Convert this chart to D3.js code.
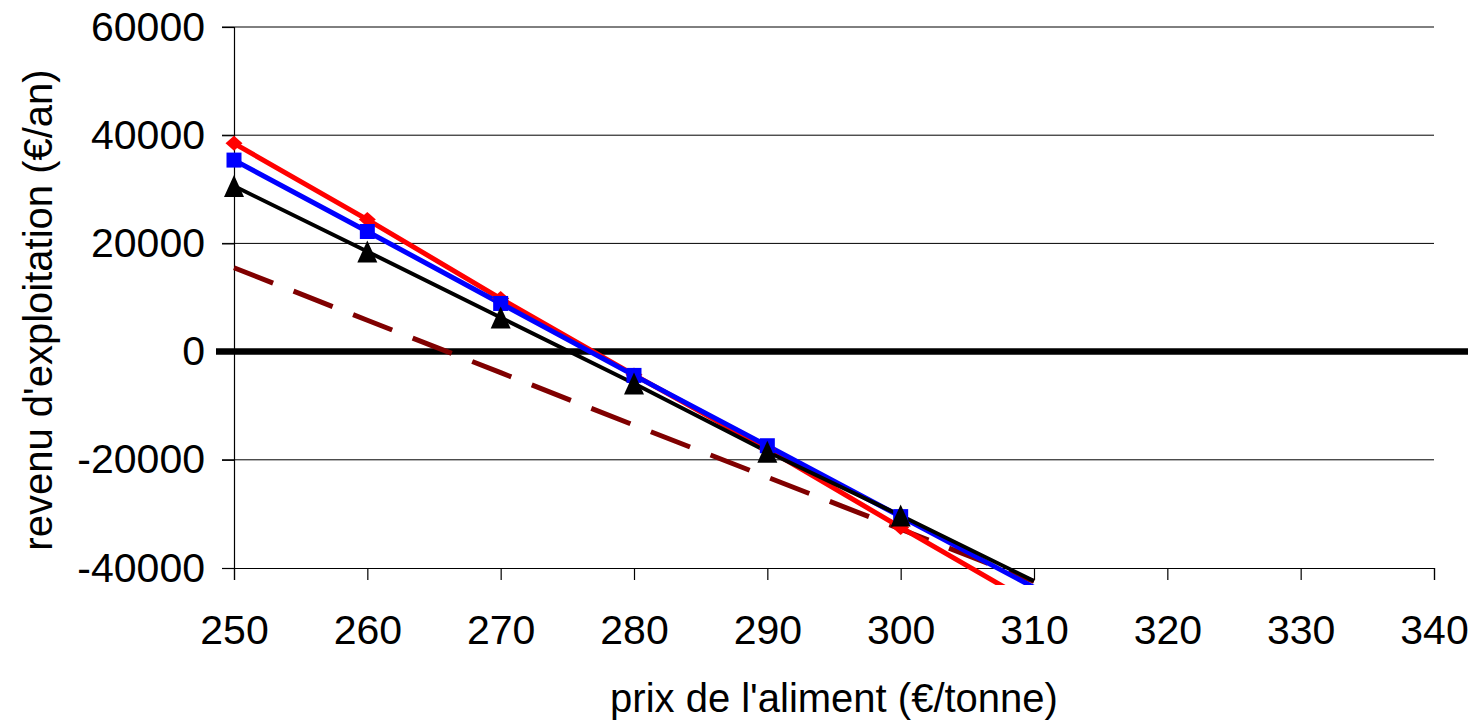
<!DOCTYPE html>
<html>
<head>
<meta charset="utf-8">
<script src="https://cdn.jsdelivr.net/npm/d3@7"></script>
<style>
  html, body { margin: 0; padding: 0; background: #fff; }
  svg { display: block; font-family: "Liberation Sans", Arial, sans-serif; }
</style>
</head>
<body>
<svg id="chart" width="1468" height="722"></svg>
<script>
// Feed price (€/tonne)
const prices = [250, 260, 270, 280, 290, 300, 310];
// Farm income (€/year) for each scenario
const seriesRed   = [38500, 24400, 9800, -4300, -18000, -32500, -46700];
const seriesBlue  = [35400, 22200, 8900, -4400, -17400, -30500, -43600];
const seriesBlack = [30600, 18500, 6300, -5900, -18500, -30300, -42400];
const seriesDash  = [15500, 5800, -3900, -13600, -23200, -32800, -42500];
const xTicks = [250, 260, 270, 280, 290, 300, 310, 320, 330, 340];
const yTicks = [-40000, -20000, 0, 20000, 40000, 60000];

const svg = d3.select("#chart");
const plotLeft = 234, plotRight = 1434, plotTop = 27, plotBottom = 568;
const FONT = "Liberation Sans, Arial, sans-serif";
const FS = 41;

const x = d3.scaleLinear().domain([250, 340]).range([plotLeft, plotRight]);
const y = d3.scaleLinear().domain([-40000, 60000]).range([plotBottom, plotTop]);

// horizontal gridlines
svg.append("g").selectAll("line").data(yTicks.filter(d => d !== 0 && d !== -40000))
  .join("line")
  .attr("x1", plotLeft - 12).attr("x2", plotRight)
  .attr("y1", d => y(d)).attr("y2", d => y(d))
  .attr("stroke", "#000").attr("stroke-width", 1);

// y axis
const yAxis = d3.axisLeft(y).tickValues(yTicks).tickSize(12).tickPadding(17).tickFormat(d => String(d));
const gy = svg.append("g").attr("transform", `translate(${plotLeft},0)`).call(yAxis)
  .attr("font-size", FS).attr("font-family", FONT);
gy.select(".domain").attr("stroke", "#000").attr("stroke-width", 1.2);
gy.selectAll(".tick line").attr("stroke", "#000").attr("stroke-width", 1.2);
gy.selectAll(".tick text").attr("fill", "#000");

// x axis
const xAxis = d3.axisBottom(x).tickValues(xTicks).tickSize(12).tickPadding(35).tickFormat(d => String(d));
const gx = svg.append("g").attr("transform", `translate(0,${plotBottom})`).call(xAxis)
  .attr("font-size", FS).attr("font-family", FONT);
gx.select(".domain").attr("stroke", "#000").attr("stroke-width", 1.2);
gx.selectAll(".tick line").attr("stroke", "#000").attr("stroke-width", 1.2);
gx.selectAll(".tick text").attr("fill", "#000");

// thick zero line
svg.append("line")
  .attr("x1", plotLeft - 18).attr("x2", 1468)
  .attr("y1", y(0)).attr("y2", y(0))
  .attr("stroke", "#000").attr("stroke-width", 6.5);

// clipping region for the series lines
svg.append("defs").append("clipPath").attr("id", "plotClip")
  .append("rect").attr("x", plotLeft - 20).attr("y", plotTop - 20)
  .attr("width", plotRight - plotLeft + 40).attr("height", plotBottom - plotTop + 37);

const line = d3.line().x((d, i) => x(prices[i])).y(d => y(d));
const plot = svg.append("g").attr("clip-path", "url(#plotClip)");

// marker shapes (half-width r)
const shapes = {
  diamond: r => `M${-r},0L0,${-r * 0.88}L${r},0L0,${r * 0.88}Z`,
  square: r => `M${-r},${-r}H${r}V${r}H${-r}Z`,
  triangle: r => `M0,${-r * 1.1}L${r},${r * 1.1}L${-r},${r * 1.1}Z`
};

const series = [
  { values: seriesDash,  color: "#800000", width: 5, dash: "42,22", marker: null },
  { values: seriesRed,   color: "#ff0000", width: 5, dash: null, marker: "diamond", r: 8.5 },
  { values: seriesBlue,  color: "#0000ff", width: 5, dash: null, marker: "square", r: 7.5 },
  { values: seriesBlack, color: "#000000", width: 4, dash: null, marker: "triangle", r: 10 }
];

series.forEach(s => {
  plot.append("path")
    .datum(s.values)
    .attr("d", line)
    .attr("fill", "none")
    .attr("stroke", s.color)
    .attr("stroke-width", s.width)
    .attr("stroke-dasharray", s.dash)
    .attr("stroke-linejoin", "round");
});

series.filter(s => s.marker).forEach(s => {
  const pts = s.values.map((v, i) => ({ p: prices[i], v })).filter(d => d.v >= -40000);
  plot.append("g").selectAll("path").data(pts).join("path")
    .attr("transform", d => `translate(${x(d.p)},${y(d.v)})`)
    .attr("d", shapes[s.marker](s.r))
    .attr("fill", s.color);
});

// axis titles
svg.append("text")
  .attr("x", (plotLeft + plotRight) / 2).attr("y", 712)
  .attr("text-anchor", "middle").attr("font-size", 40).attr("font-family", FONT).attr("fill", "#000")
  .text("prix de l'aliment (€/tonne)");

svg.append("text")
  .attr("transform", `translate(52,310) rotate(-90)`)
  .attr("text-anchor", "middle").attr("font-size", 40).attr("font-family", FONT).attr("fill", "#000")
  .text("revenu d'exploitation (€/an)");
</script>
</body>
</html>
